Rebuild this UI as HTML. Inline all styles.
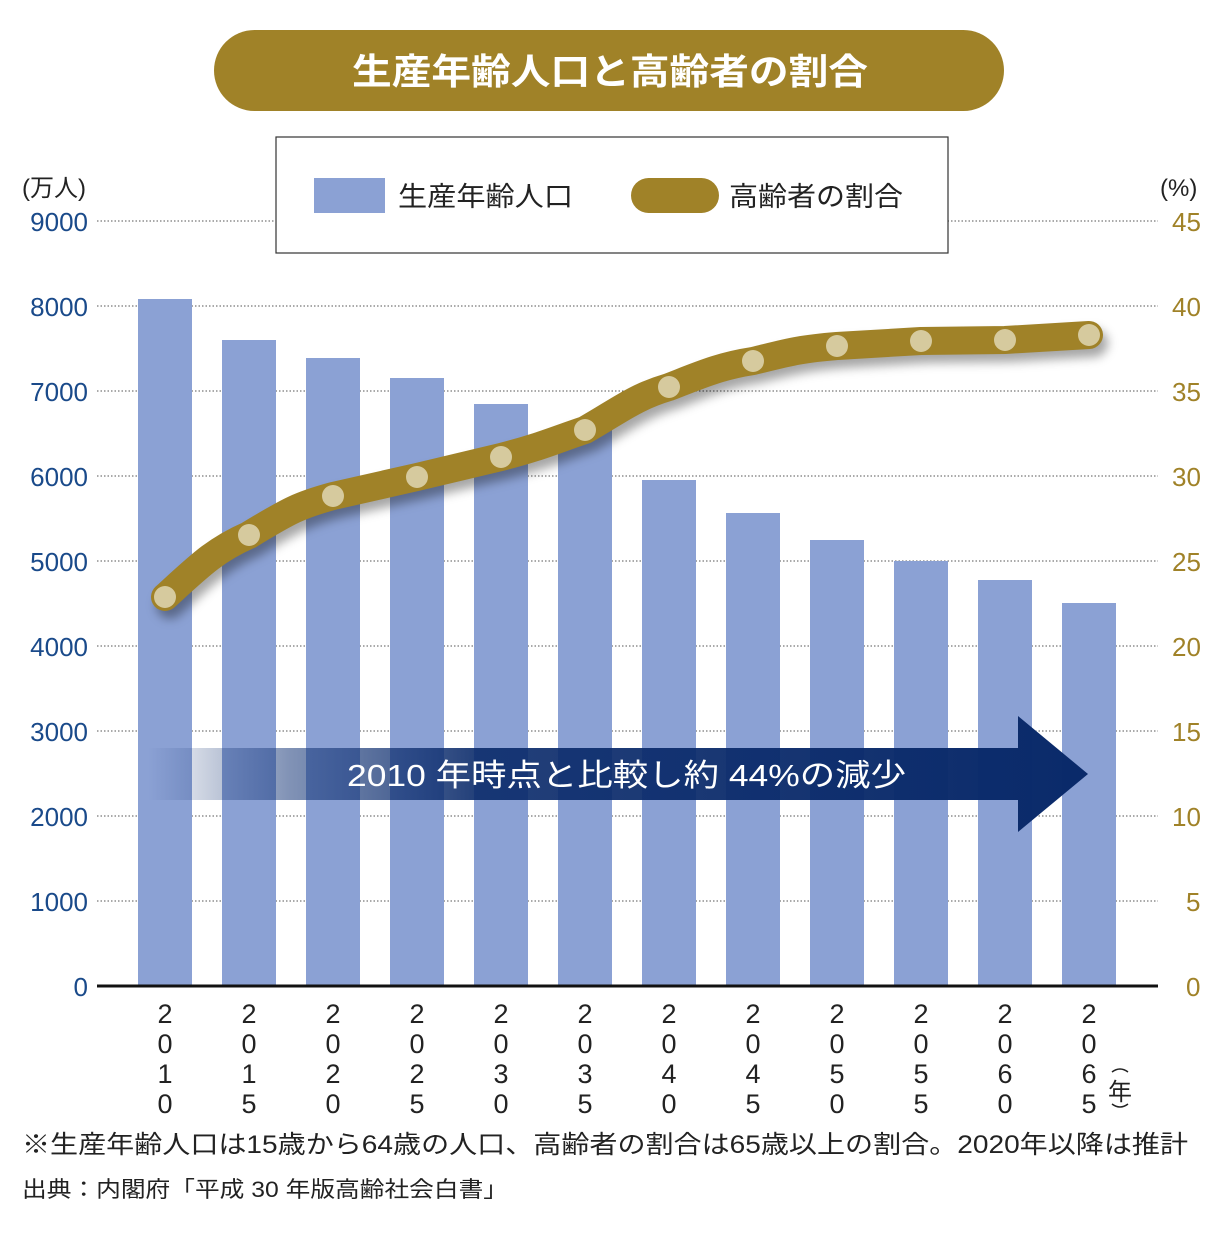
<!DOCTYPE html>
<html><head><meta charset="utf-8"><style>
body{margin:0;background:#fff;}
svg text{font-family:"Liberation Sans","Noto Sans CJK JP",sans-serif;}
</style></head><body>
<svg width="1228" height="1244" viewBox="0 0 1228 1244" xmlns="http://www.w3.org/2000/svg">
<defs>
<linearGradient id="ag" x1="0" x2="1" y1="0" y2="0">
<stop offset="0" stop-color="#0a2a6a" stop-opacity="0"/>
<stop offset="0.15" stop-color="#1a3a7a" stop-opacity="0.55"/>
<stop offset="0.35" stop-color="#0a2a6a" stop-opacity="0.9"/>
<stop offset="1" stop-color="#0a2a6a" stop-opacity="1"/>
</linearGradient>
<filter id="sh" x="-10%" y="-20%" width="120%" height="140%"><feGaussianBlur stdDeviation="5"/></filter>
</defs>
<rect x="214" y="30" width="790" height="81" rx="40.5" fill="#a08228"/>
<text x="352" y="84" font-size="36" font-weight="bold" fill="#fff" textLength="516" lengthAdjust="spacingAndGlyphs">生産年齢人口と高齢者の割合</text>
<g stroke="#555" stroke-width="1" stroke-dasharray="1.5,2">
<line x1="97" x2="1158" y1="221" y2="221"/><line x1="97" x2="1158" y1="306" y2="306"/>
<line x1="97" x2="1158" y1="391" y2="391"/><line x1="97" x2="1158" y1="476" y2="476"/>
<line x1="97" x2="1158" y1="561" y2="561"/><line x1="97" x2="1158" y1="646" y2="646"/>
<line x1="97" x2="1158" y1="731" y2="731"/><line x1="97" x2="1158" y1="816" y2="816"/>
<line x1="97" x2="1158" y1="901" y2="901"/>
</g>
<rect x="276" y="137" width="672" height="116" fill="#fff" stroke="#333" stroke-width="1.2"/>
<rect x="314" y="178" width="71" height="35" fill="#8ba1d4"/>
<text x="398" y="206" font-size="27" fill="#222" textLength="175" lengthAdjust="spacingAndGlyphs">生産年齢人口</text>
<rect x="631" y="178" width="88" height="35" rx="17.5" fill="#a08228"/>
<text x="729" y="206" font-size="27" fill="#222" textLength="174" lengthAdjust="spacingAndGlyphs">高齢者の割合</text>
<g fill="#8ba1d4">
<rect x="138" y="299" width="54" height="687"/>
<rect x="222" y="340" width="54" height="646"/>
<rect x="306" y="358" width="54" height="628"/>
<rect x="390" y="378" width="54" height="608"/>
<rect x="474" y="404" width="54" height="582"/>
<rect x="558" y="430" width="54" height="556"/>
<rect x="642" y="480" width="54" height="506"/>
<rect x="726" y="513" width="54" height="473"/>
<rect x="810" y="540" width="54" height="446"/>
<rect x="894" y="561" width="54" height="425"/>
<rect x="978" y="580" width="54" height="406"/>
<rect x="1062" y="603" width="54" height="383"/>
</g>
<polygon points="148,748 1018,748 1018,716 1088,774 1018,832 1018,800 148,800" fill="url(#ag)"/>
<text x="347" y="786" font-size="31" fill="#fff" textLength="559" lengthAdjust="spacingAndGlyphs">2010 年時点と比較し約 44%の減少</text>
<line x1="97" x2="1158" y1="986" y2="986" stroke="#111" stroke-width="3"/>
<path d="M165,597 C200,565 215,550 249,535 C290,510 300,505 333,496 L417,477 L501,457 C540,447 555,440 585,430 C620,410 635,397 669,387 C700,375 720,366 753,361 C790,352 800,349 837,346 L921,341 L1005,340 L1089,335" fill="none" stroke="#000" stroke-opacity="0.35" stroke-width="28" stroke-linecap="round" filter="url(#sh)" transform="translate(5,8)"/>
<path d="M165,597 C200,565 215,550 249,535 C290,510 300,505 333,496 L417,477 L501,457 C540,447 555,440 585,430 C620,410 635,397 669,387 C700,375 720,366 753,361 C790,352 800,349 837,346 L921,341 L1005,340 L1089,335" fill="none" stroke="#a08228" stroke-width="28" stroke-linecap="round" stroke-linejoin="round"/>
<g fill="#d6ca9e">
<circle cx="165" cy="597" r="11"/><circle cx="249" cy="535" r="11"/><circle cx="333" cy="496" r="11"/>
<circle cx="417" cy="477" r="11"/><circle cx="501" cy="457" r="11"/><circle cx="585" cy="430" r="11"/>
<circle cx="669" cy="387" r="11"/><circle cx="753" cy="361" r="11"/><circle cx="837" cy="346" r="11"/>
<circle cx="921" cy="341" r="11"/><circle cx="1005" cy="340" r="11"/><circle cx="1089" cy="335" r="11"/>
</g>
<text x="22" y="196" font-size="24" fill="#222">(万人)</text>
<text x="1160" y="196" font-size="24" fill="#222">(%)</text>
<g font-size="26" fill="#1a4a8a" text-anchor="end">
<text x="88" y="231">9000</text><text x="88" y="316">8000</text><text x="88" y="401">7000</text>
<text x="88" y="486">6000</text><text x="88" y="571">5000</text><text x="88" y="656">4000</text>
<text x="88" y="741">3000</text><text x="88" y="826">2000</text><text x="88" y="911">1000</text>
<text x="88" y="996">0</text>
</g>
<g font-size="26" fill="#a08228" text-anchor="start">
<text x="1172" y="231">45</text><text x="1172" y="316">40</text><text x="1172" y="401">35</text>
<text x="1172" y="486">30</text><text x="1172" y="571">25</text><text x="1172" y="656">20</text>
<text x="1172" y="741">15</text><text x="1172" y="826">10</text><text x="1186" y="911">5</text>
<text x="1186" y="996">0</text>
</g>
<g font-size="27" fill="#222" text-anchor="middle">
<g transform="translate(165,0)"><text y="1023">2</text><text y="1053">0</text><text y="1083">1</text><text y="1113">0</text></g>
<g transform="translate(249,0)"><text y="1023">2</text><text y="1053">0</text><text y="1083">1</text><text y="1113">5</text></g>
<g transform="translate(333,0)"><text y="1023">2</text><text y="1053">0</text><text y="1083">2</text><text y="1113">0</text></g>
<g transform="translate(417,0)"><text y="1023">2</text><text y="1053">0</text><text y="1083">2</text><text y="1113">5</text></g>
<g transform="translate(501,0)"><text y="1023">2</text><text y="1053">0</text><text y="1083">3</text><text y="1113">0</text></g>
<g transform="translate(585,0)"><text y="1023">2</text><text y="1053">0</text><text y="1083">3</text><text y="1113">5</text></g>
<g transform="translate(669,0)"><text y="1023">2</text><text y="1053">0</text><text y="1083">4</text><text y="1113">0</text></g>
<g transform="translate(753,0)"><text y="1023">2</text><text y="1053">0</text><text y="1083">4</text><text y="1113">5</text></g>
<g transform="translate(837,0)"><text y="1023">2</text><text y="1053">0</text><text y="1083">5</text><text y="1113">0</text></g>
<g transform="translate(921,0)"><text y="1023">2</text><text y="1053">0</text><text y="1083">5</text><text y="1113">5</text></g>
<g transform="translate(1005,0)"><text y="1023">2</text><text y="1053">0</text><text y="1083">6</text><text y="1113">0</text></g>
<g transform="translate(1089,0)"><text y="1023">2</text><text y="1053">0</text><text y="1083">6</text><text y="1113">5</text></g>
</g>
<text x="1120" y="1100" font-size="24" fill="#222" text-anchor="middle">年</text>
<path d="M1112,1072 q8,-6 16,0 M1112,1104 q8,6 16,0" fill="none" stroke="#222" stroke-width="1.5"/>
<text x="22" y="1153" font-size="25" fill="#222" textLength="1166" lengthAdjust="spacingAndGlyphs">※生産年齢人口は15歳から64歳の人口、高齢者の割合は65歳以上の割合。2020年以降は推計</text>
<text x="22" y="1197" font-size="22" fill="#222" textLength="486" lengthAdjust="spacingAndGlyphs">出典：内閣府「平成 30 年版高齢社会白書」</text>
</svg>
</body></html>
